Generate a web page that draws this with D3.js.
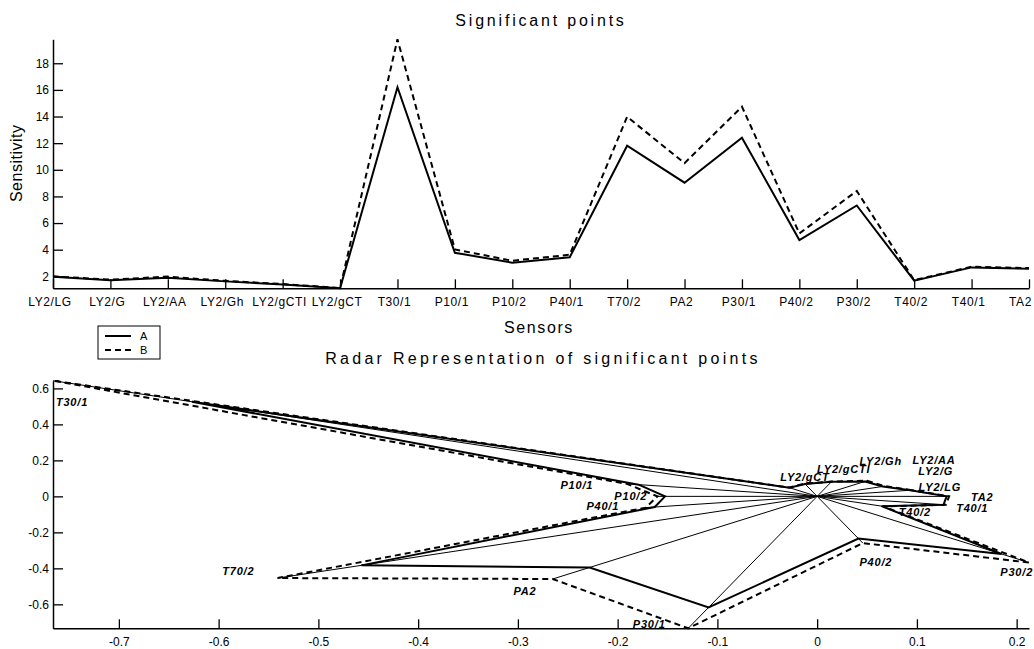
<!DOCTYPE html>
<html>
<head>
<meta charset="utf-8">
<script src="https://cdn.jsdelivr.net/npm/d3@7"></script>
<style>
  body { margin: 0; background: #fff; }
  svg text { font-family: "Liberation Sans", Arial, Helvetica, sans-serif; fill: #000; }
</style>
</head>
<body>
<svg id="chart" width="1034" height="649"></svg>
<script>
// ---- data ----
const sensors = ["LY2/LG", "LY2/G", "LY2/AA", "LY2/Gh", "LY2/gCTI", "LY2/gCT", "T30/1", "P10/1", "P10/2",
                 "P40/1", "T70/2", "PA2", "P30/1", "P40/2", "P30/2", "T40/2", "T40/1", "TA2"];
const seriesA = [1.97, 1.70, 1.90, 1.62, 1.38, 1.10, 16.20, 3.77, 3.02, 3.43, 11.81, 9.03, 12.41, 4.72, 7.32, 1.67, 2.67, 2.57];
const seriesB = [2.00, 1.75, 1.98, 1.66, 1.42, 1.12, 19.80, 4.02, 3.17, 3.62, 13.98, 10.50, 14.74, 5.22, 8.41, 1.71, 2.72, 2.62];
const seriesNames = ["A", "B"];
const sensitivityTicks = [2, 4, 6, 8, 10, 12, 14, 16, 18];
const radarXTicks = [-0.7, -0.6, -0.5, -0.4, -0.3, -0.2, -0.1, 0, 0.1, 0.2];
const radarYTicks = [-0.6, -0.4, -0.2, 0, 0.2, 0.4, 0.6];

// ---- layout ----
const W = 1034;
const svg = d3.select("#chart");
const top1 = { left: 53, right: 1029, top: 39.3, bottom: 288.3 };
const top2 = { left: 53, right: 1029, top: 380.7, bottom: 628.3 };
// label placement around each radar vertex (pixels, from the outer vertex)
const radarLabelNudge = [[28, -3.5], [51, -14.5], [67, -21], [49, -20.5], [39, -14.5], [16, -10.3],
                         [19, 21], [-50, 1.4], [-26.7, -0.4], [-43, -1], [-39.3, -6.4], [-27.7, 12],
                         [-39, -4.3], [13, 18.7], [-12.3, 9.7], [31.7, 5.3], [26.3, 3.5], [33, 1]];
const dash = "6,4";

function styleAxis(g) {
  g.select(".domain").attr("stroke", "#000").attr("stroke-width", 1.5);
  g.selectAll(".tick line").attr("stroke", "#000").attr("stroke-width", 1.3);
  g.selectAll(".tick text").attr("font-size", 12).attr("fill", "#000")
    .style("font-family", '"Liberation Sans", Arial, sans-serif');
}

// keep horizontal tick labels inside the canvas
function fitTickLabels(g, shift) {
  g.selectAll(".tick").each(function () {
    const tx = +d3.select(this).attr("transform").match(/translate\(([-\d.e]+)/)[1];
    const t = d3.select(this).select("text");
    const w = t.node().getComputedTextLength();
    let dx = shift;
    const over = tx + dx + w / 2 - (W - 2);
    if (over > 0) dx -= over;
    t.attr("dx", dx);
  });
}

// ================= line chart =================
const x1 = d3.scalePoint().domain(sensors).range([top1.left, top1.right]);
const y1 = d3.scaleLinear()
  .domain(d3.extent(seriesA.concat(seriesB)))
  .range([top1.bottom, top1.top]);

svg.append("text").attr("x", (top1.left + top1.right) / 2).attr("y", 26)
  .attr("text-anchor", "middle").attr("font-size", 16).attr("letter-spacing", 2.8)
  .text("Significant points");

svg.append("g").attr("transform", `translate(0,${top1.bottom})`)
  .call(d3.axisBottom(x1).tickSizeInner(-9).tickSizeOuter(0).tickPadding(9))
  .call(styleAxis)
  .call(g => g.selectAll(".tick text").attr("letter-spacing", 0.6))
  .call(g => fitTickLabels(g, -3.5));

svg.append("g").attr("transform", `translate(${top1.left},0)`)
  .call(d3.axisLeft(y1).tickValues(sensitivityTicks).tickSizeInner(-10).tickSizeOuter(0).tickPadding(4)
    .tickFormat(d => String(d)))
  .call(styleAxis);

svg.append("text").attr("x", (top1.left + top1.right) / 2 - 2).attr("y", 333)
  .attr("text-anchor", "middle").attr("font-size", 16).attr("letter-spacing", 1.6)
  .text("Sensors");

svg.append("text").attr("transform", `translate(22,${(top1.top + top1.bottom) / 2 - 0.5}) rotate(-90)`)
  .attr("text-anchor", "middle").attr("font-size", 16).attr("letter-spacing", 0.5)
  .text("Sensitivity");

const line1 = d3.line().x((d, i) => x1(sensors[i])).y(d => y1(d));
svg.append("path").datum(seriesA).attr("d", line1)
  .attr("fill", "none").attr("stroke", "#000").attr("stroke-width", 2).attr("stroke-linejoin", "miter");
svg.append("path").datum(seriesB).attr("d", line1)
  .attr("fill", "none").attr("stroke", "#000").attr("stroke-width", 2).attr("stroke-dasharray", dash);

// legend
const lg = svg.append("g");
lg.append("rect").attr("x", 98).attr("y", 326).attr("width", 62).attr("height", 33)
  .attr("fill", "#fff").attr("stroke", "#000").attr("stroke-width", 1);
seriesNames.forEach((name, i) => {
  const yy = 336 + i * 14;
  lg.append("line").attr("x1", 105).attr("x2", 131).attr("y1", yy).attr("y2", yy)
    .attr("stroke", "#000").attr("stroke-width", 2)
    .attr("stroke-dasharray", i === 1 ? dash : null);
  lg.append("text").attr("x", 140).attr("y", yy + 4).attr("font-size", 11).text(name);
});

// ================= radar =================
const vmax = d3.max(seriesA.concat(seriesB));
const angle = i => (i + 1) * 20 * Math.PI / 180;
const toPoint = (v, i) => [v / vmax * Math.cos(angle(i)), v / vmax * Math.sin(angle(i))];
const ptsA = seriesA.map(toPoint);
const ptsB = seriesB.map(toPoint);
const allPts = ptsA.concat(ptsB, [[0, 0]]);

const x2 = d3.scaleLinear().domain(d3.extent(allPts, p => p[0])).range([top2.left, top2.right]);
const y2 = d3.scaleLinear().domain(d3.extent(allPts, p => p[1])).range([top2.bottom, top2.top]);

svg.append("text").attr("x", (top2.left + top2.right) / 2 + 2).attr("y", 364)
  .attr("text-anchor", "middle").attr("font-size", 16).attr("letter-spacing", 3.3)
  .text("Radar Representation of significant points");

svg.append("g").attr("transform", `translate(0,${top2.bottom})`)
  .call(d3.axisBottom(x2).tickValues(radarXTicks).tickSizeInner(-9).tickSizeOuter(0).tickPadding(9)
    .tickFormat(d => String(d)))
  .call(styleAxis);

svg.append("g").attr("transform", `translate(${top2.left},0)`)
  .call(d3.axisLeft(y2).tickValues(radarYTicks).tickSizeInner(-10).tickSizeOuter(0).tickPadding(4)
    .tickFormat(d => String(d)))
  .call(styleAxis);

// spokes from the centre to the outer vertex of each sensor
const outer = sensors.map((s, i) => (seriesB[i] >= seriesA[i] ? ptsB[i] : ptsA[i]));
svg.append("g").selectAll("line").data(outer).join("line")
  .attr("x1", x2(0)).attr("y1", y2(0))
  .attr("x2", p => x2(p[0])).attr("y2", p => y2(p[1]))
  .attr("stroke", "#000").attr("stroke-width", 1);

const radarLine = d3.line().x(p => x2(p[0])).y(p => y2(p[1])).curve(d3.curveLinearClosed);
svg.append("path").datum(ptsA).attr("d", radarLine)
  .attr("fill", "none").attr("stroke", "#000").attr("stroke-width", 2);
svg.append("path").datum(ptsB).attr("d", radarLine)
  .attr("fill", "none").attr("stroke", "#000").attr("stroke-width", 2).attr("stroke-dasharray", dash);

svg.append("g").selectAll("text").data(sensors).join("text")
  .attr("x", (s, i) => x2(outer[i][0]) + radarLabelNudge[i][0])
  .attr("y", (s, i) => y2(outer[i][1]) + radarLabelNudge[i][1])
  .attr("dy", "0.35em")
  .attr("text-anchor", "middle").attr("font-size", 11).attr("font-weight", "bold")
  .attr("font-style", "italic").attr("letter-spacing", 0.8)
  .text(s => s);
</script>
</body>
</html>
